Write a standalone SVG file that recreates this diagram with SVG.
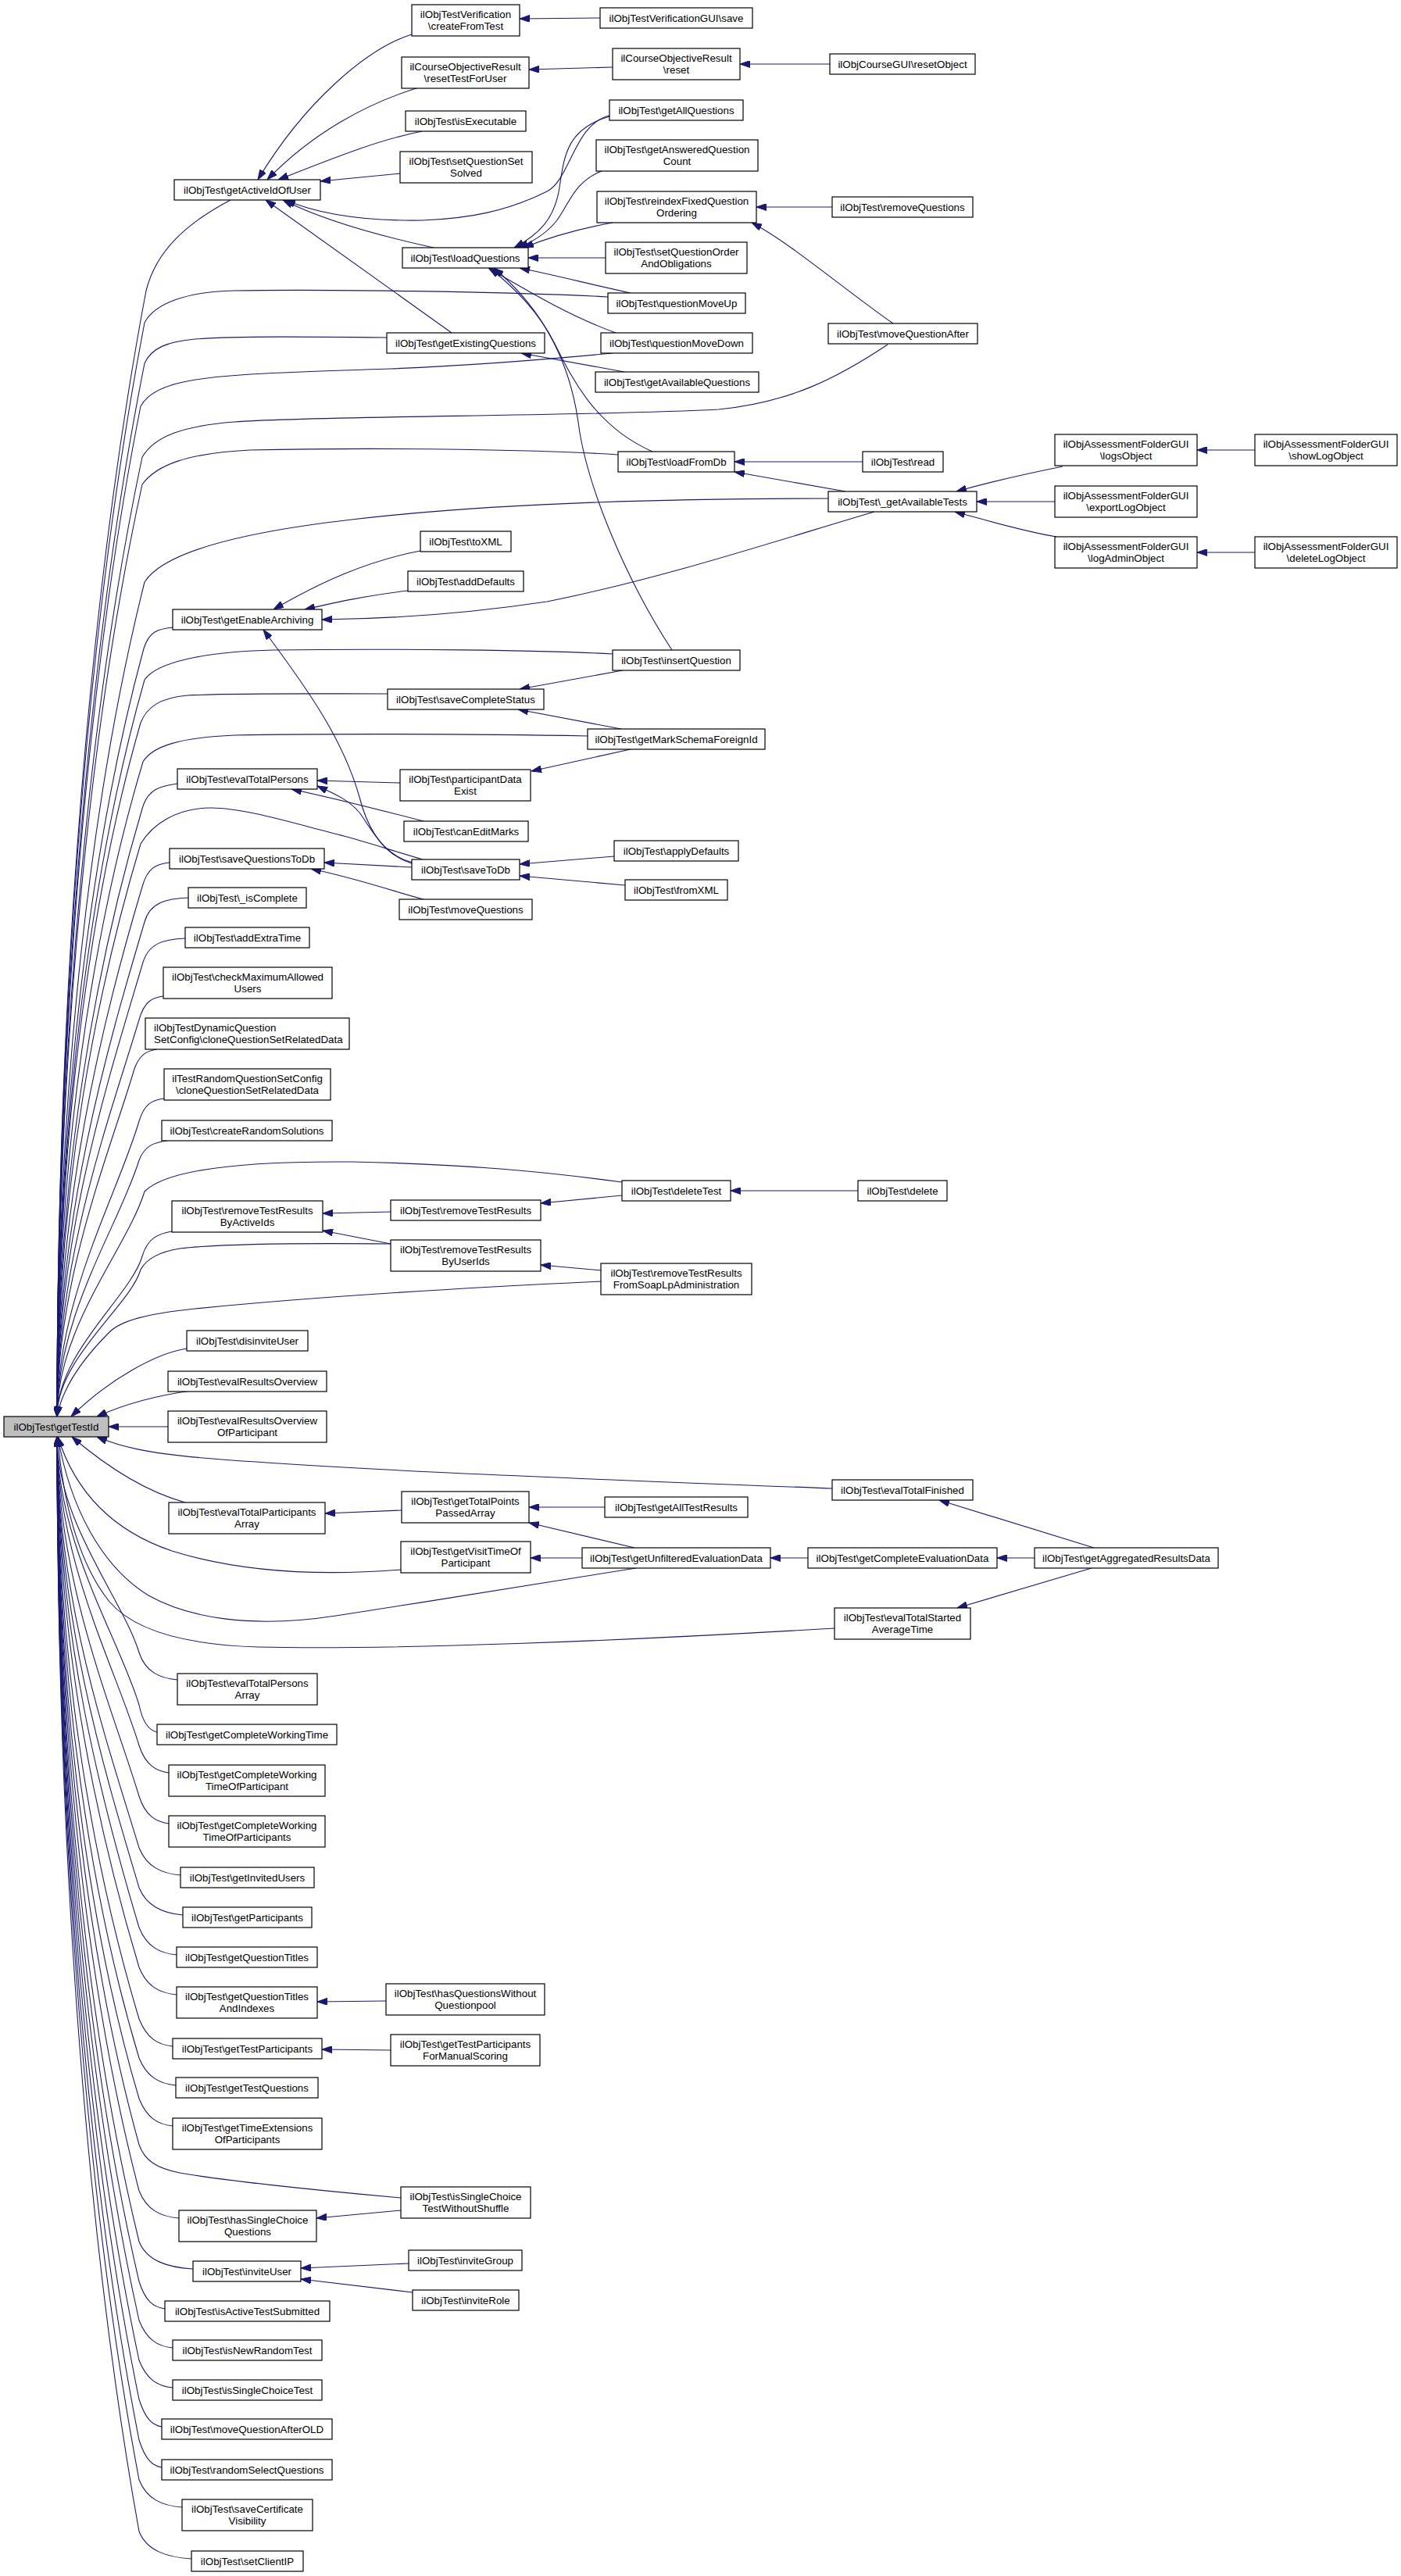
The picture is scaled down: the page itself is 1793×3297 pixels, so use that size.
<svg xmlns="http://www.w3.org/2000/svg" width="1793" height="3297" viewBox="0 0 1793 3297">
<defs>
<style>
.node rect{fill:#ffffff;stroke:#000000;stroke-width:1.2}
.node.main rect{fill:#bfbfbf}
.node text{font-family:"Liberation Sans",Arial,Helvetica,sans-serif;font-size:13.33px;fill:#000000;text-anchor:middle}
.node text.l{text-anchor:start}
.edges path{fill:none;stroke:#191970;stroke-width:1.1;marker-end:url(#ah)}
</style>
<marker id="ah" viewBox="0 0 13 9" refX="13" refY="4.5" markerWidth="13" markerHeight="9" markerUnits="userSpaceOnUse" orient="auto"><path d="M0,0 L13,4.5 L0,9 z" fill="#191970" stroke="#191970" stroke-width="1"/></marker>
</defs>
<rect x="0" y="0" width="1793" height="3297" fill="#ffffff"/>

<g class="edges">
<!-- into getTestId from above -->
<path d="M295,256 C240,285 200,320 187,372 C119,732 73,1237 73,1813"/>
<path d="M778,380 C650,373 400,370 300,372 C240,373 198,388 185,413 C118,763 73,1253 73,1813"/>
<path d="M495,432 C400,431 300,430 250,434 C215,437 194,445 185,465 C118,802 73,1274 73,1813"/>
<path d="M784,452 C700,460 600,468 500,472 C380,476 280,478 230,490 C205,496 188,505 180,520 C116,843 73,1296 73,1813"/>
<path d="M1136,441 C1070,485 1010,515 920,524 C750,533 400,532 300,540 C235,545 198,558 182,585 C117,892 73,1322 73,1813"/>
<path d="M791,582 C700,576 500,572 320,576 C240,580 200,595 182,620 C117,918 73,1336 73,1813"/>
<path d="M1060,638 C850,638 620,645 450,665 C320,680 210,705 185,745 C118,1012 73,1386 73,1813"/>
<path d="M221,803 C202,805 191,808 184,830 C117,1076 73,1420 73,1813"/>
<path d="M784,837 C700,832 500,830 350,832 C260,834 200,848 185,870 C118,1106 73,1436 73,1813"/>
<path d="M496,888 C400,888 300,887 240,890 C205,893 188,905 180,925 C116,1147 73,1458 73,1813"/>
<path d="M752,942 C600,939 400,939 300,941 C230,944 195,955 183,975 C120,1185 73,1478 73,1813"/>
<path d="M227,1003 C205,1006 189,1010 182,1035 C124,1230 73,1502 73,1813"/>
<path d="M541,1100 C500,1088 470,1078 440,1070 C380,1055 310,1033 268,1034 C225,1035 195,1055 180,1080 C125,1263 73,1520 73,1813"/>
<path d="M217,1104 C200,1106 189,1110 182,1135 C131,1305 73,1542 73,1813"/>
<path d="M241,1149 C213,1150 192,1155 185,1180 C138,1338 73,1560 73,1813"/>
<path d="M237,1201 C210,1202 189,1207 182,1235 C139,1380 73,1582 73,1813"/>
<path d="M209,1275 C195,1277 185,1281 178,1305 C140,1432 73,1610 73,1813"/>
<path d="M201,1343 C188,1345 179,1349 172,1368 C139,1479 73,1635 73,1813"/>
<path d="M210,1406 C195,1408 185,1412 178,1435 C150,1530 73,1662 73,1813"/>
<path d="M214,1460 C198,1462 185,1466 178,1485 C153,1567 73,1682 73,1813"/>
<path d="M796,1513 C700,1500 600,1490 450,1487 C320,1486 215,1495 185,1525 C163,1597 73,1698 73,1813"/>
<path d="M220,1576 C203,1579 189,1584 182,1608 C167,1659 73,1731 73,1813"/>
<path d="M500,1592 C400,1591 280,1592 230,1598 C205,1602 188,1610 180,1625 C166,1672 73,1738 73,1813"/>
<path d="M770,1640 C600,1648 400,1660 250,1675 C190,1681 155,1690 140,1705 C105,1740 80,1775 73,1813"/>
<path d="M239,1726 C200,1732 140,1765 91,1813"/>
<path d="M245,1780 C200,1786 160,1797 124,1813"/>
<path d="M215,1826 L139,1826"/>
<!-- into getTestId from below -->
<path d="M1065,1905 C800,1895 450,1882 260,1866 C190,1860 155,1852 124,1839"/>
<path d="M237,1923 C190,1910 140,1880 92,1839"/>
<path d="M513,2009 C400,2018 300,2010 220,1985 C140,1958 95,1905 74,1839"/>
<path d="M814,2007 C700,2025 560,2048 430,2068 C320,2085 240,2070 190,2042 C130,2005 90,1930 74,1839"/>
<path d="M1068,2084 C800,2100 500,2112 330,2108 C230,2105 170,2085 140,2050 C100,2000 80,1920 74,1839"/>
<path d="M227,2150 C205,2148 186,2140 178,2115 C157,2046 73,1949 73,1839"/>
<path d="M201,2217 C192,2215 183,2207 178,2182 C152,2096 73,1976 73,1839"/>
<path d="M216,2269 C200,2267 186,2259 178,2234 C148,2135 73,1997 73,1839"/>
<path d="M216,2334 C200,2332 186,2324 178,2299 C143,2184 73,2023 73,1839"/>
<path d="M231,2400 C208,2398 188,2390 178,2365 C138,2233 73,2049 73,1839"/>
<path d="M234,2451 C210,2449 188,2441 178,2416 C135,2272 73,2070 73,1839"/>
<path d="M226,2502 C205,2500 188,2492 178,2467 C131,2310 73,2090 73,1839"/>
<path d="M226,2553 C205,2551 188,2543 178,2518 C127,2348 73,2111 73,1839"/>
<path d="M221,2619 C202,2617 188,2609 178,2584 C122,2398 73,2137 73,1839"/>
<path d="M225,2669 C205,2667 188,2659 178,2634 C118,2435 73,2157 73,1839"/>
<path d="M221,2721 C202,2719 188,2711 178,2686 C115,2474 73,2178 73,1839"/>
<path d="M513,2813 C400,2803 280,2790 230,2781 C200,2775 185,2765 178,2745 C115,2518 73,2201 73,1839"/>
<path d="M229,2839 C206,2837 188,2829 178,2804 C115,2563 73,2225 73,1839"/>
<path d="M247,2904 C215,2902 188,2894 178,2869 C115,2611 73,2251 73,1839"/>
<path d="M211,2955 C196,2953 186,2945 178,2920 C115,2650 73,2271 73,1839"/>
<path d="M221,3005 C202,3003 188,2995 178,2970 C115,2687 73,2291 73,1839"/>
<path d="M221,3056 C202,3054 188,3046 178,3021 C115,2725 73,2312 73,1839"/>
<path d="M207,3106 C195,3104 186,3096 178,3071 C115,2763 73,2332 73,1839"/>
<path d="M207,3158 C195,3156 186,3148 178,3123 C115,2802 73,2353 73,1839"/>
<path d="M233,3209 C208,3207 188,3199 178,3174 C115,2840 73,2373 73,1839"/>
<path d="M245,3275 C214,3273 188,3265 178,3240 C115,2890 73,2399 73,1839"/>
<!-- other edges -->
<path d="M768,23 L665,24"/>
<path d="M784,86 L677,89"/>
<path d="M1062,82 L947,82"/>
<path d="M527,44 C470,62 390,130 330,230"/>
<path d="M536,112 C470,132 400,170 342,230"/>
<path d="M540,168 C480,180 420,205 356,230"/>
<path d="M512,222 C480,225 440,229 410,232"/>
<path d="M780,148 C735,158 730,230 700,245 C650,270 600,280 540,282 C470,283 410,275 365,256"/>
<path d="M555,317 C500,305 420,285 362,256"/>
<path d="M578,426 L340,256"/>
<path d="M780,149 C725,165 722,200 716,240 C710,280 690,300 658,317"/>
<path d="M770,219 C735,232 728,262 712,283 C698,300 682,309 663,317"/>
<path d="M784,285 C740,293 700,305 670,317"/>
<path d="M775,330 L676,330"/>
<path d="M807,375 C760,365 710,352 665,343"/>
<path d="M788,426 C730,405 680,375 625,343"/>
<path d="M835,578 C760,545 730,480 710,440 C690,400 660,370 627,343"/>
<path d="M860,832 C800,740 750,620 740,540 C730,470 700,400 632,343"/>
<path d="M1065,265 L968,265"/>
<path d="M1143,414 C1080,370 1010,310 962,285"/>
<path d="M799,476 L667,452"/>
<path d="M1104,591 L940,591"/>
<path d="M1082,629 L940,604"/>
<path d="M1360,597 C1320,605 1270,616 1224,629"/>
<path d="M1350,642 L1250,642"/>
<path d="M1352,687 C1310,680 1270,668 1222,655"/>
<path d="M1606,576 L1532,576"/>
<path d="M1606,707 L1532,707"/>
<path d="M538,705 C470,718 410,745 350,780"/>
<path d="M522,756 C470,762 430,771 390,780"/>
<path d="M1119,655 C1000,690 850,740 700,770 C600,785 500,792 412,793"/>
<path d="M530,1106 C490,1095 470,1060 460,1020 C440,950 400,890 337,806"/>
<path d="M797,858 L665,882"/>
<path d="M795,933 L663,908"/>
<path d="M807,959 L680,987"/>
<path d="M512,1002 L406,999"/>
<path d="M542,1051 C480,1035 420,1020 373,1010"/>
<path d="M528,1104 C490,1095 475,1060 460,1040 C445,1022 425,1015 406,1006"/>
<path d="M527,1110 L415,1104"/>
<path d="M542,1151 C500,1140 460,1125 398,1112"/>
<path d="M786,1096 L665,1106"/>
<path d="M800,1133 L665,1121"/>
<path d="M500,1551 L413,1553"/>
<path d="M500,1592 L413,1575"/>
<path d="M796,1530 L692,1540"/>
<path d="M1098,1524 L935,1524"/>
<path d="M770,1626 L692,1619"/>
<path d="M514,1933 L416,1937"/>
<path d="M774,1929 L677,1929"/>
<path d="M812,1981 L677,1949"/>
<path d="M745,1994 L679,1994"/>
<path d="M1034,1994 L986,1994"/>
<path d="M1324,1994 L1276,1994"/>
<path d="M1400,1981 L1202,1920"/>
<path d="M1397,2007 L1225,2058"/>
<path d="M494,2561 L406,2562"/>
<path d="M500,2624 L412,2623"/>
<path d="M513,2829 L405,2839"/>
<path d="M523,2897 L385,2903"/>
<path d="M528,2934 L385,2917"/>
</g>

<!-- column 0 -->
<g id="getTestId" class="node main"><rect x="5" y="1813" width="134" height="26"/><text x="72" y="1830.5">ilObjTest\getTestId</text></g>

<!-- column 1 -->
<g id="getActiveIdOfUser" class="node"><rect x="223" y="230" width="187" height="26"/><text x="316.5" y="247.5">ilObjTest\getActiveIdOfUser</text></g>
<g id="getEnableArchiving" class="node"><rect x="221" y="780" width="191" height="26"/><text x="316.5" y="797.5">ilObjTest\getEnableArchiving</text></g>
<g id="evalTotalPersons" class="node"><rect x="227" y="984" width="179" height="26"/><text x="316.5" y="1001.5">ilObjTest\evalTotalPersons</text></g>
<g id="saveQuestionsToDb" class="node"><rect x="217" y="1086" width="198" height="26"/><text x="316" y="1103.5">ilObjTest\saveQuestionsToDb</text></g>
<g id="isComplete" class="node"><rect x="241" y="1136" width="151" height="26"/><text x="316.5" y="1153.5">ilObjTest\_isComplete</text></g>
<g id="addExtraTime" class="node"><rect x="237" y="1187" width="159" height="26"/><text x="316.5" y="1204.5">ilObjTest\addExtraTime</text></g>
<g id="checkMaximumAllowedUsers" class="node"><rect x="209" y="1238" width="216" height="40"/><text x="317" y="1254.5">ilObjTest\checkMaximumAllowed</text><text x="317" y="1269.5">Users</text></g>
<g id="dynCloneQuestionSetRelatedData" class="node"><rect x="186" y="1303" width="261" height="40"/><text class="l" x="197" y="1319.5">ilObjTestDynamicQuestion</text><text class="l" x="197" y="1334.5">SetConfig\cloneQuestionSetRelatedData</text></g>
<g id="rndCloneQuestionSetRelatedData" class="node"><rect x="210" y="1368" width="213" height="40"/><text x="316.5" y="1384.5">ilTestRandomQuestionSetConfig</text><text x="316.5" y="1399.5">\cloneQuestionSetRelatedData</text></g>
<g id="createRandomSolutions" class="node"><rect x="207" y="1434" width="218" height="26"/><text x="316" y="1451.5">ilObjTest\createRandomSolutions</text></g>
<g id="removeTestResultsByActiveIds" class="node"><rect x="220" y="1537" width="193" height="40"/><text x="316.5" y="1553.5">ilObjTest\removeTestResults</text><text x="316.5" y="1568.5">ByActiveIds</text></g>
<g id="disinviteUser" class="node"><rect x="239" y="1703" width="155" height="26"/><text x="316.5" y="1720.5">ilObjTest\disinviteUser</text></g>
<g id="evalResultsOverview" class="node"><rect x="215" y="1755" width="203" height="26"/><text x="316.5" y="1772.5">ilObjTest\evalResultsOverview</text></g>
<g id="evalResultsOverviewOfParticipant" class="node"><rect x="215" y="1806" width="203" height="40"/><text x="316.5" y="1822.5">ilObjTest\evalResultsOverview</text><text x="316.5" y="1837.5">OfParticipant</text></g>
<g id="evalTotalParticipantsArray" class="node"><rect x="216" y="1923" width="200" height="40"/><text x="316" y="1939.5">ilObjTest\evalTotalParticipants</text><text x="316" y="1954.5">Array</text></g>
<g id="evalTotalPersonsArray" class="node"><rect x="227" y="2142" width="179" height="40"/><text x="316.5" y="2158.5">ilObjTest\evalTotalPersons</text><text x="316.5" y="2173.5">Array</text></g>
<g id="getCompleteWorkingTime" class="node"><rect x="201" y="2207" width="230" height="26"/><text x="316" y="2224.5">ilObjTest\getCompleteWorkingTime</text></g>
<g id="getCompleteWorkingTimeOfParticipant" class="node"><rect x="216" y="2259" width="200" height="40"/><text x="316" y="2275.5">ilObjTest\getCompleteWorking</text><text x="316" y="2290.5">TimeOfParticipant</text></g>
<g id="getCompleteWorkingTimeOfParticipants" class="node"><rect x="216" y="2324" width="200" height="40"/><text x="316" y="2340.5">ilObjTest\getCompleteWorking</text><text x="316" y="2355.5">TimeOfParticipants</text></g>
<g id="getInvitedUsers" class="node"><rect x="231" y="2390" width="171" height="26"/><text x="316.5" y="2407.5">ilObjTest\getInvitedUsers</text></g>
<g id="getParticipants" class="node"><rect x="234" y="2441" width="165" height="26"/><text x="316.5" y="2458.5">ilObjTest\getParticipants</text></g>
<g id="getQuestionTitles" class="node"><rect x="226" y="2492" width="180" height="26"/><text x="316" y="2509.5">ilObjTest\getQuestionTitles</text></g>
<g id="getQuestionTitlesAndIndexes" class="node"><rect x="226" y="2543" width="180" height="40"/><text x="316" y="2559.5">ilObjTest\getQuestionTitles</text><text x="316" y="2574.5">AndIndexes</text></g>
<g id="getTestParticipants" class="node"><rect x="221" y="2609" width="191" height="26"/><text x="316.5" y="2626.5">ilObjTest\getTestParticipants</text></g>
<g id="getTestQuestions" class="node"><rect x="225" y="2659" width="182" height="26"/><text x="316" y="2676.5">ilObjTest\getTestQuestions</text></g>
<g id="getTimeExtensionsOfParticipants" class="node"><rect x="221" y="2711" width="191" height="40"/><text x="316.5" y="2727.5">ilObjTest\getTimeExtensions</text><text x="316.5" y="2742.5">OfParticipants</text></g>
<g id="hasSingleChoiceQuestions" class="node"><rect x="229" y="2829" width="176" height="40"/><text x="317" y="2845.5">ilObjTest\hasSingleChoice</text><text x="317" y="2860.5">Questions</text></g>
<g id="inviteUser" class="node"><rect x="247" y="2894" width="138" height="26"/><text x="316" y="2911.5">ilObjTest\inviteUser</text></g>
<g id="isActiveTestSubmitted" class="node"><rect x="211" y="2945" width="211" height="26"/><text x="316.5" y="2962.5">ilObjTest\isActiveTestSubmitted</text></g>
<g id="isNewRandomTest" class="node"><rect x="221" y="2995" width="191" height="26"/><text x="316.5" y="3012.5">ilObjTest\isNewRandomTest</text></g>
<g id="isSingleChoiceTest" class="node"><rect x="221" y="3046" width="191" height="26"/><text x="316.5" y="3063.5">ilObjTest\isSingleChoiceTest</text></g>
<g id="moveQuestionAfterOLD" class="node"><rect x="207" y="3096" width="218" height="26"/><text x="316" y="3113.5">ilObjTest\moveQuestionAfterOLD</text></g>
<g id="randomSelectQuestions" class="node"><rect x="207" y="3148" width="218" height="26"/><text x="316" y="3165.5">ilObjTest\randomSelectQuestions</text></g>
<g id="saveCertificateVisibility" class="node"><rect x="233" y="3199" width="167" height="40"/><text x="316.5" y="3215.5">ilObjTest\saveCertificate</text><text x="316.5" y="3230.5">Visibility</text></g>
<g id="setClientIP" class="node"><rect x="245" y="3265" width="143" height="26"/><text x="316.5" y="3282.5">ilObjTest\setClientIP</text></g>

<!-- column 2 -->
<g id="createFromTest" class="node"><rect x="527" y="6" width="138" height="40"/><text x="596" y="22.5">ilObjTestVerification</text><text x="596" y="37.5">\createFromTest</text></g>
<g id="resetTestForUser" class="node"><rect x="514" y="73" width="163" height="40"/><text x="595.5" y="89.5">ilCourseObjectiveResult</text><text x="595.5" y="104.5">\resetTestForUser</text></g>
<g id="isExecutable" class="node"><rect x="519" y="142" width="154" height="26"/><text x="596" y="159.5">ilObjTest\isExecutable</text></g>
<g id="setQuestionSetSolved" class="node"><rect x="512" y="194" width="169" height="40"/><text x="596.5" y="210.5">ilObjTest\setQuestionSet</text><text x="596.5" y="225.5">Solved</text></g>
<g id="loadQuestions" class="node"><rect x="515" y="317" width="161" height="26"/><text x="595.5" y="334.5">ilObjTest\loadQuestions</text></g>
<g id="getExistingQuestions" class="node"><rect x="495" y="426" width="202" height="26"/><text x="596" y="443.5">ilObjTest\getExistingQuestions</text></g>
<g id="toXML" class="node"><rect x="538" y="680" width="116" height="26"/><text x="596" y="697.5">ilObjTest\toXML</text></g>
<g id="addDefaults" class="node"><rect x="522" y="731" width="148" height="26"/><text x="596" y="748.5">ilObjTest\addDefaults</text></g>
<g id="saveCompleteStatus" class="node"><rect x="496" y="882" width="200" height="26"/><text x="596" y="899.5">ilObjTest\saveCompleteStatus</text></g>
<g id="participantDataExist" class="node"><rect x="512" y="985" width="167" height="40"/><text x="595.5" y="1001.5">ilObjTest\participantData</text><text x="595.5" y="1016.5">Exist</text></g>
<g id="canEditMarks" class="node"><rect x="517" y="1051" width="159" height="26"/><text x="596.5" y="1068.5">ilObjTest\canEditMarks</text></g>
<g id="saveToDb" class="node"><rect x="527" y="1100" width="138" height="26"/><text x="596" y="1117.5">ilObjTest\saveToDb</text></g>
<g id="moveQuestions" class="node"><rect x="511" y="1151" width="170" height="26"/><text x="596" y="1168.5">ilObjTest\moveQuestions</text></g>
<g id="removeTestResults" class="node"><rect x="500" y="1536" width="192" height="26"/><text x="596" y="1553.5">ilObjTest\removeTestResults</text></g>
<g id="removeTestResultsByUserIds" class="node"><rect x="500" y="1587" width="192" height="40"/><text x="596" y="1603.5">ilObjTest\removeTestResults</text><text x="596" y="1618.5">ByUserIds</text></g>
<g id="getTotalPointsPassedArray" class="node"><rect x="514" y="1909" width="163" height="40"/><text x="595.5" y="1925.5">ilObjTest\getTotalPoints</text><text x="595.5" y="1940.5">PassedArray</text></g>
<g id="getVisitTimeOfParticipant" class="node"><rect x="513" y="1973" width="166" height="40"/><text x="596" y="1989.5">ilObjTest\getVisitTimeOf</text><text x="596" y="2004.5">Participant</text></g>
<g id="hasQuestionsWithoutQuestionpool" class="node"><rect x="494" y="2539" width="203" height="40"/><text x="595.5" y="2555.5">ilObjTest\hasQuestionsWithout</text><text x="595.5" y="2570.5">Questionpool</text></g>
<g id="getTestParticipantsForManualScoring" class="node"><rect x="500" y="2604" width="191" height="40"/><text x="595.5" y="2620.5">ilObjTest\getTestParticipants</text><text x="595.5" y="2635.5">ForManualScoring</text></g>
<g id="isSingleChoiceTestWithoutShuffle" class="node"><rect x="513" y="2799" width="166" height="40"/><text x="596" y="2815.5">ilObjTest\isSingleChoice</text><text x="596" y="2830.5">TestWithoutShuffle</text></g>
<g id="inviteGroup" class="node"><rect x="523" y="2880" width="145" height="26"/><text x="595.5" y="2897.5">ilObjTest\inviteGroup</text></g>
<g id="inviteRole" class="node"><rect x="528" y="2931" width="136" height="26"/><text x="596" y="2948.5">ilObjTest\inviteRole</text></g>

<!-- column 3 -->
<g id="verificationGuiSave" class="node"><rect x="768" y="10" width="195" height="26"/><text x="865.5" y="27.5">ilObjTestVerificationGUI\save</text></g>
<g id="courseObjectiveReset" class="node"><rect x="784" y="62" width="163" height="40"/><text x="865.5" y="78.5">ilCourseObjectiveResult</text><text x="865.5" y="93.5">\reset</text></g>
<g id="getAllQuestions" class="node"><rect x="780" y="128" width="171" height="26"/><text x="865.5" y="145.5">ilObjTest\getAllQuestions</text></g>
<g id="getAnsweredQuestionCount" class="node"><rect x="763" y="179" width="207" height="40"/><text x="866.5" y="195.5">ilObjTest\getAnsweredQuestion</text><text x="866.5" y="210.5">Count</text></g>
<g id="reindexFixedQuestionOrdering" class="node"><rect x="764" y="245" width="204" height="40"/><text x="866" y="261.5">ilObjTest\reindexFixedQuestion</text><text x="866" y="276.5">Ordering</text></g>
<g id="setQuestionOrderAndObligations" class="node"><rect x="775" y="310" width="181" height="40"/><text x="865.5" y="326.5">ilObjTest\setQuestionOrder</text><text x="865.5" y="341.5">AndObligations</text></g>
<g id="questionMoveUp" class="node"><rect x="778" y="375" width="176" height="26"/><text x="866" y="392.5">ilObjTest\questionMoveUp</text></g>
<g id="questionMoveDown" class="node"><rect x="769" y="426" width="194" height="26"/><text x="866" y="443.5">ilObjTest\questionMoveDown</text></g>
<g id="getAvailableQuestions" class="node"><rect x="762" y="476" width="209" height="26"/><text x="866.5" y="493.5">ilObjTest\getAvailableQuestions</text></g>
<g id="loadFromDb" class="node"><rect x="791" y="578" width="149" height="26"/><text x="865.5" y="595.5">ilObjTest\loadFromDb</text></g>
<g id="insertQuestion" class="node"><rect x="784" y="832" width="163" height="26"/><text x="865.5" y="849.5">ilObjTest\insertQuestion</text></g>
<g id="getMarkSchemaForeignId" class="node"><rect x="752" y="933" width="227" height="26"/><text x="865.5" y="950.5">ilObjTest\getMarkSchemaForeignId</text></g>
<g id="applyDefaults" class="node"><rect x="786" y="1076" width="159" height="26"/><text x="865.5" y="1093.5">ilObjTest\applyDefaults</text></g>
<g id="fromXML" class="node"><rect x="800" y="1126" width="131" height="26"/><text x="865.5" y="1143.5">ilObjTest\fromXML</text></g>
<g id="deleteTest" class="node"><rect x="796" y="1511" width="139" height="26"/><text x="865.5" y="1528.5">ilObjTest\deleteTest</text></g>
<g id="removeTestResultsFromSoapLpAdministration" class="node"><rect x="769" y="1617" width="193" height="40"/><text x="865.5" y="1633.5">ilObjTest\removeTestResults</text><text x="865.5" y="1648.5">FromSoapLpAdministration</text></g>
<g id="getAllTestResults" class="node"><rect x="774" y="1916" width="183" height="26"/><text x="865.5" y="1933.5">ilObjTest\getAllTestResults</text></g>
<g id="getUnfilteredEvaluationData" class="node"><rect x="745" y="1981" width="241" height="26"/><text x="865.5" y="1998.5">ilObjTest\getUnfilteredEvaluationData</text></g>

<!-- column 4 -->
<g id="resetObject" class="node"><rect x="1062" y="69" width="186" height="26"/><text x="1155" y="86.5">ilObjCourseGUI\resetObject</text></g>
<g id="removeQuestions" class="node"><rect x="1065" y="252" width="180" height="26"/><text x="1155" y="269.5">ilObjTest\removeQuestions</text></g>
<g id="moveQuestionAfter" class="node"><rect x="1060" y="414" width="191" height="26"/><text x="1155.5" y="431.5">ilObjTest\moveQuestionAfter</text></g>
<g id="read" class="node"><rect x="1104" y="578" width="103" height="26"/><text x="1155.5" y="595.5">ilObjTest\read</text></g>
<g id="getAvailableTests" class="node"><rect x="1060" y="629" width="190" height="26"/><text x="1155" y="646.5">ilObjTest\_getAvailableTests</text></g>
<g id="delete" class="node"><rect x="1098" y="1511" width="114" height="26"/><text x="1155" y="1528.5">ilObjTest\delete</text></g>
<g id="evalTotalFinished" class="node"><rect x="1065" y="1894" width="180" height="26"/><text x="1155" y="1911.5">ilObjTest\evalTotalFinished</text></g>
<g id="getCompleteEvaluationData" class="node"><rect x="1034" y="1981" width="242" height="26"/><text x="1155" y="1998.5">ilObjTest\getCompleteEvaluationData</text></g>
<g id="evalTotalStartedAverageTime" class="node"><rect x="1068" y="2058" width="174" height="40"/><text x="1155" y="2074.5">ilObjTest\evalTotalStarted</text><text x="1155" y="2089.5">AverageTime</text></g>

<!-- column 5 -->
<g id="logsObject" class="node"><rect x="1350" y="556" width="182" height="40"/><text x="1441" y="572.5">ilObjAssessmentFolderGUI</text><text x="1441" y="587.5">\logsObject</text></g>
<g id="exportLogObject" class="node"><rect x="1350" y="622" width="182" height="40"/><text x="1441" y="638.5">ilObjAssessmentFolderGUI</text><text x="1441" y="653.5">\exportLogObject</text></g>
<g id="logAdminObject" class="node"><rect x="1350" y="687" width="182" height="40"/><text x="1441" y="703.5">ilObjAssessmentFolderGUI</text><text x="1441" y="718.5">\logAdminObject</text></g>
<g id="getAggregatedResultsData" class="node"><rect x="1324" y="1981" width="235" height="26"/><text x="1441.5" y="1998.5">ilObjTest\getAggregatedResultsData</text></g>

<!-- column 6 -->
<g id="showLogObject" class="node"><rect x="1606" y="556" width="182" height="40"/><text x="1697" y="572.5">ilObjAssessmentFolderGUI</text><text x="1697" y="587.5">\showLogObject</text></g>
<g id="deleteLogObject" class="node"><rect x="1606" y="687" width="182" height="40"/><text x="1697" y="703.5">ilObjAssessmentFolderGUI</text><text x="1697" y="718.5">\deleteLogObject</text></g>
</svg>
